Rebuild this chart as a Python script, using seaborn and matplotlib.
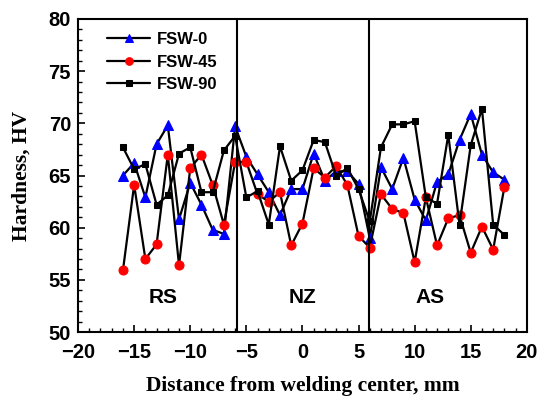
import matplotlib
matplotlib.use("Agg")
import matplotlib.pyplot as plt
import seaborn as sns
import pandas as pd
from matplotlib.ticker import MultipleLocator

distance = list(range(-16, 19))
fsw0 = [65.0, 66.2, 62.9, 68.0, 69.8, 60.8, 64.3, 62.2, 59.8, 59.4, 69.7,
        66.8, 65.1, 63.4, 61.2, 63.7, 63.7, 67.1, 64.5, 65.4, 65.4, 64.2,
        59.0, 65.8, 63.7, 66.7, 62.7, 60.7, 64.4, 65.1, 68.4, 70.9, 67.0,
        65.3, 64.6]
fsw45 = [55.9, 64.1, 57.0, 58.4, 67.0, 56.4, 65.7, 67.0, 64.1, 60.3, 66.3,
         66.3, 63.2, 62.5, 63.4, 58.3, 60.4, 65.7, 64.8, 65.9, 64.1, 59.2,
         58.1, 63.2, 61.8, 61.4, 56.7, 62.9, 58.3, 60.9, 61.2, 57.6, 60.1,
         57.9, 63.9]
fsw90 = [67.7, 65.6, 66.1, 62.2, 63.1, 67.1, 67.7, 63.4, 63.4, 67.4, 68.8,
         62.9, 63.5, 60.3, 67.8, 64.5, 65.5, 68.4, 68.2, 65.0, 65.7, 63.7,
         60.6, 67.7, 69.9, 69.9, 70.2, 62.9, 62.3, 68.9, 60.3, 67.9, 71.4,
         60.3, 59.3]
series_names = ["FSW-0", "FSW-45", "FSW-90"]
zone_labels = ["RS", "NZ", "AS"]
zone_label_x = [-12.4, 0.0, 11.4]
boundaries = [-5.8, 5.9]

sns.set_style("white")
plt.rcParams['font.family'] = ['Liberation Sans', 'DejaVu Sans']
plt.rcParams.update({"text.color": "black", "axes.labelcolor": "black",
                     "xtick.color": "black", "ytick.color": "black"})

fig = plt.figure(figsize=(5.42, 4.03), dpi=100)
ax = fig.add_axes([0.144, 0.176, 0.828, 0.777])

styles = [("^", "#0000ff", 7), ("o", "#ff0000", 6.5), ("s", "black", 5)]
for name, vals, (mk, col, ms) in zip(series_names, [fsw0, fsw45, fsw90], styles):
    df = pd.DataFrame({"x": distance, "y": vals})
    sns.lineplot(data=df, x="x", y="y", ax=ax, color="black", lw=1.6,
                 marker=mk, markersize=ms, markerfacecolor=col,
                 markeredgecolor=col, label=name)

for b in boundaries:
    ax.axvline(b, color="black", lw=1.5)

for lab, xx in zip(zone_labels, zone_label_x):
    ax.text(xx, 53.3, lab, ha="center", va="center", fontsize=15,
            fontweight="bold", color="black")

ax.set_xlim(-20, 20)
ax.set_ylim(50, 80)
ax.xaxis.set_major_locator(MultipleLocator(5))
ax.xaxis.set_minor_locator(MultipleLocator(1))
ax.yaxis.set_major_locator(MultipleLocator(5))
ax.yaxis.set_minor_locator(MultipleLocator(1))
ax.tick_params(which="both", direction="in", top=False, right=False,
               left=True, bottom=True, colors="black")
ax.tick_params(which="major", length=5, width=1.2, labelsize=14.5)
ax.tick_params(axis="x", which="major", pad=8)
ax.tick_params(axis="y", which="major", pad=5)
ax.tick_params(which="minor", length=3, width=1.0)
for t in ax.get_xticklabels() + ax.get_yticklabels():
    t.set_fontweight("bold")
for s in ax.spines.values():
    s.set_linewidth(1.5)
    s.set_color("black")

ax.set_xlabel("Distance from welding center, mm", fontsize=15.5,
              fontweight="bold", family="Liberation Serif", labelpad=10,
              color="black")
ax.set_ylabel("Hardness, HV", fontsize=15.5, fontweight="bold",
              family="Liberation Serif", labelpad=12, color="black")

leg = ax.legend(loc="upper left", frameon=False, fontsize=12,
                handlelength=2.6, handletextpad=0.4, labelspacing=0.45,
                borderaxespad=0.4, bbox_to_anchor=(0.035, 1.0))
for t in leg.get_texts():
    t.set_fontweight("bold")
    t.set_color("black")
for h, ms in zip(leg.legend_handles, [6, 5.5, 4.5]):
    h.set_markersize(ms)

fig.savefig("out.png", dpi=100)
